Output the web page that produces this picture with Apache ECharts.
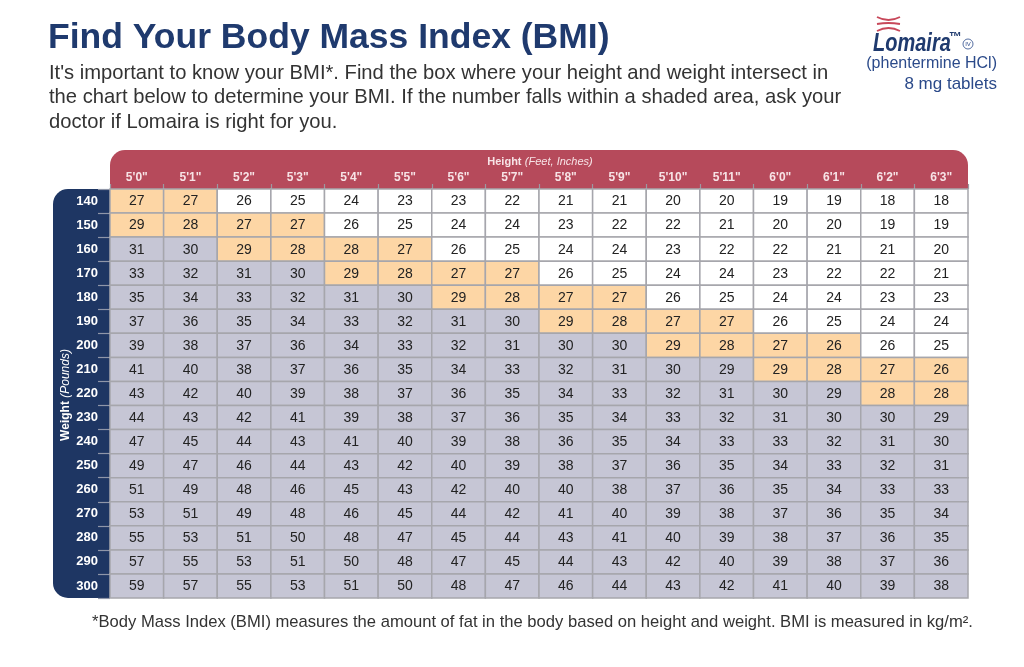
<!DOCTYPE html>
<html>
<head>
<meta charset="utf-8">
<title>BMI chart</title>
<script src="https://cdn.jsdelivr.net/npm/echarts@6/dist/echarts.min.js"></script>
<style>
  html, body { margin: 0; padding: 0; background: #fff; }
  #chart { width: 1024px; height: 667px; }
</style>
</head>
<body>
<div id="chart"></div>
<script>
// 表头：身高（英尺、英寸）
const heights = ['5\'0"', '5\'1"', '5\'2"', '5\'3"', '5\'4"', '5\'5"', '5\'6"', '5\'7"',
                 '5\'8"', '5\'9"', '5\'10"', '5\'11"', '6\'0"', '6\'1"', '6\'2"', '6\'3"'];
// 左侧：体重（磅）
const weights = ['140', '150', '160', '170', '180', '190', '200', '210', '220',
                 '230', '240', '250', '260', '270', '280', '290', '300'];

// BMI 数值，每行对应一个体重
const bmi140 = [27, 27, 26, 25, 24, 23, 23, 22, 21, 21, 20, 20, 19, 19, 18, 18];
const bmi150 = [29, 28, 27, 27, 26, 25, 24, 24, 23, 22, 22, 21, 20, 20, 19, 19];
const bmi160 = [31, 30, 29, 28, 28, 27, 26, 25, 24, 24, 23, 22, 22, 21, 21, 20];
const bmi170 = [33, 32, 31, 30, 29, 28, 27, 27, 26, 25, 24, 24, 23, 22, 22, 21];
const bmi180 = [35, 34, 33, 32, 31, 30, 29, 28, 27, 27, 26, 25, 24, 24, 23, 23];
const bmi190 = [37, 36, 35, 34, 33, 32, 31, 30, 29, 28, 27, 27, 26, 25, 24, 24];
const bmi200 = [39, 38, 37, 36, 34, 33, 32, 31, 30, 30, 29, 28, 27, 26, 26, 25];
const bmi210 = [41, 40, 38, 37, 36, 35, 34, 33, 32, 31, 30, 29, 29, 28, 27, 26];
const bmi220 = [43, 42, 40, 39, 38, 37, 36, 35, 34, 33, 32, 31, 30, 29, 28, 28];
const bmi230 = [44, 43, 42, 41, 39, 38, 37, 36, 35, 34, 33, 32, 31, 30, 30, 29];
const bmi240 = [47, 45, 44, 43, 41, 40, 39, 38, 36, 35, 34, 33, 33, 32, 31, 30];
const bmi250 = [49, 47, 46, 44, 43, 42, 40, 39, 38, 37, 36, 35, 34, 33, 32, 31];
const bmi260 = [51, 49, 48, 46, 45, 43, 42, 40, 40, 38, 37, 36, 35, 34, 33, 33];
const bmi270 = [53, 51, 49, 48, 46, 45, 44, 42, 41, 40, 39, 38, 37, 36, 35, 34];
const bmi280 = [55, 53, 51, 50, 48, 47, 45, 44, 43, 41, 40, 39, 38, 37, 36, 35];
const bmi290 = [57, 55, 53, 51, 50, 48, 47, 45, 44, 43, 42, 40, 39, 38, 37, 36];
const bmi300 = [59, 57, 55, 53, 51, 50, 48, 47, 46, 44, 43, 42, 41, 40, 39, 38];

// 区域分类：g = 灰色，p = 橙色（阴影区），w = 白色
const shading = [
  'ppwwwwwwwwwwwwww',
  'ppppwwwwwwwwwwww',
  'ggppppwwwwwwwwww',
  'ggggppppwwwwwwww',
  'ggggggppppwwwwww',
  'ggggggggppppwwww',
  'ggggggggggppppww',
  'ggggggggggggpppp',
  'ggggggggggggggpp',
  'gggggggggggggggg',
  'gggggggggggggggg',
  'gggggggggggggggg',
  'gggggggggggggggg',
  'gggggggggggggggg',
  'gggggggggggggggg',
  'gggggggggggggggg',
  'gggggggggggggggg'
];

const bmiRows = [bmi140, bmi150, bmi160, bmi170, bmi180, bmi190, bmi200, bmi210, bmi220,
                 bmi230, bmi240, bmi250, bmi260, bmi270, bmi280, bmi290, bmi300];

// 颜色
const NAVY = '#1e3663';
const RED = '#b64a5b';
const shadeColors = { g: '#c6c6d5', p: '#fdd6a5', w: '#ffffff' };
const NUM_FONT = '"Liberation Sans Narrow", "Liberation Sans", Arial, sans-serif';
const TEXT_FONT = '"Liberation Sans", Arial, Helvetica, sans-serif';

// 构造单元格数据 [列, 行, BMI, 分类]
const cells = [];
bmiRows.forEach((row, r) => {
  row.forEach((v, c) => {
    cells.push([c, r, v, shading[r][c]]);
  });
});

const chart = echarts.init(document.getElementById('chart'));

// 标志上方的红色波纹线
function logoWave(y0, dy) {
  return {
    type: 'bezierCurve',
    shape: { x1: 877, y1: y0, x2: 900, y2: y0, cpx1: 888.5, cpy1: y0 + dy },
    style: { stroke: '#c8485a', lineWidth: 1.8, fill: null }
  };
}

chart.setOption({
  animation: false,
  grid: { left: 110, top: 189, width: 858, height: 409 },
  xAxis: {
    type: 'category',
    position: 'top',
    data: heights,
    axisLine: { show: false },
    axisTick: { show: true, length: 5, lineStyle: { color: '#9a9aa2', width: 1.2 } },
    axisLabel: {
      color: '#f7e3e6', fontWeight: 'bold', fontSize: 12, margin: 5,
      fontFamily: NUM_FONT
    },
    splitLine: { show: false }
  },
  yAxis: {
    type: 'category',
    inverse: true,
    data: weights,
    axisLine: { show: false },
    axisTick: { show: true, length: 12, lineStyle: { color: '#8f96a8', width: 1.2 } },
    axisLabel: {
      color: '#ffffff', fontWeight: 'bold', fontSize: 13, margin: 12,
      fontFamily: NUM_FONT
    },
    splitLine: { show: false }
  },
  graphic: [
    // 顶部红色表头
    {
      type: 'rect', z: -1,
      shape: { x: 110, y: 150, width: 858, height: 40, r: [15, 15, 0, 0] },
      style: { fill: RED }
    },
    // 左侧深蓝条
    {
      type: 'rect', z: -1,
      shape: { x: 53, y: 189, width: 58, height: 409, r: [15, 0, 0, 15] },
      style: { fill: NAVY }
    },
    {
      type: 'text', z: 5, x: 540, y: 162,
      style: {
        text: '{b|Height} {i|(Feet, Inches)}',
        align: 'center', verticalAlign: 'middle',
        rich: {
          b: { fontWeight: 'bold', fontSize: 11, fill: '#f7e3e6', fontFamily: TEXT_FONT },
          i: { fontStyle: 'italic', fontSize: 11, fill: '#f7e3e6', fontFamily: TEXT_FONT }
        }
      }
    },
    {
      type: 'text', z: 5,
      x: 66, y: 395, rotation: Math.PI / 2,
      style: {
        text: '{b|Weight} {i|(Pounds)}',
        align: 'center', verticalAlign: 'middle',
        rich: {
          b: { fontWeight: 'bold', fontSize: 12, fill: '#ffffff', fontFamily: TEXT_FONT },
          i: { fontStyle: 'italic', fontSize: 12, fill: '#ffffff', fontFamily: TEXT_FONT }
        }
      }
    },
    // 标题与说明
    {
      type: 'text', x: 48, y: 38,
      style: {
        text: 'Find Your Body Mass Index (BMI)',
        fill: '#1f3a6e', font: 'bold 35.5px ' + TEXT_FONT, verticalAlign: 'middle'
      }
    },
    {
      type: 'text', x: 49, y: 61,
      style: {
        text: 'It\'s important to know your BMI*. Find the box where your height and weight intersect in\n' +
              'the chart below to determine your BMI. If the number falls within a shaded area, ask your\n' +
              'doctor if Lomaira is right for you.',
        fill: '#333333', font: '20.2px ' + TEXT_FONT, lineHeight: 24.5, verticalAlign: 'top'
      }
    },
    // 标志
    logoWave(17, 6),
    logoWave(24, -2),
    logoWave(31, -6),
    {
      type: 'text', x: 873, y: 44, scaleX: 0.8,
      style: {
        text: 'Lomaira', fill: '#1f3a6e',
        font: 'italic bold 25px ' + TEXT_FONT, verticalAlign: 'middle'
      }
    },
    {
      type: 'text', x: 949, y: 37,
      style: { text: '™', fill: '#1f3a6e', font: 'bold 13px ' + TEXT_FONT, verticalAlign: 'middle' }
    },
    {
      type: 'circle', shape: { cx: 968, cy: 44, r: 5 },
      style: { fill: null, stroke: '#2b4a8a', lineWidth: 0.8 }
    },
    {
      type: 'text', x: 968, y: 44,
      style: { text: 'IV', fill: '#2b4a8a', font: '6px ' + TEXT_FONT, align: 'center', verticalAlign: 'middle' }
    },
    {
      type: 'text', x: 997, y: 64,
      style: {
        text: '(phentermine HCl)', fill: '#2b4a8a',
        font: '16px ' + TEXT_FONT, align: 'right', verticalAlign: 'middle'
      }
    },
    {
      type: 'text', x: 997, y: 84,
      style: {
        text: '8 mg tablets', fill: '#2b4a8a',
        font: '17px ' + TEXT_FONT, align: 'right', verticalAlign: 'middle'
      }
    },
    // 脚注
    {
      type: 'text', x: 92, y: 622,
      style: {
        text: '*Body Mass Index (BMI) measures the amount of fat in the body based on height and weight. BMI is measured in kg/m².',
        fill: '#333333', font: '16.6px ' + TEXT_FONT, verticalAlign: 'middle'
      }
    }
  ],
  series: [{
    type: 'custom',
    data: cells,
    encode: { x: 0, y: 1 },
    renderItem: function (params, api) {
      const c = api.coord([api.value(0), api.value(1)]);
      const s = api.size([1, 1]);
      const cat = cells[params.dataIndex][3];
      return {
        type: 'group',
        children: [
          {
            type: 'rect',
            shape: { x: c[0] - s[0] / 2, y: c[1] - s[1] / 2, width: s[0], height: s[1] },
            style: { fill: shadeColors[cat], stroke: '#a6a6ac', lineWidth: 1.5 }
          },
          {
            type: 'text',
            x: c[0], y: c[1] + 0.5,
            style: {
              text: String(api.value(2)),
              fill: '#222222',
              font: '14px ' + NUM_FONT,
              align: 'center', verticalAlign: 'middle'
            }
          }
        ]
      };
    }
  }]
});

window.addEventListener('resize', function () { chart.resize(); });
</script>
</body>
</html>
